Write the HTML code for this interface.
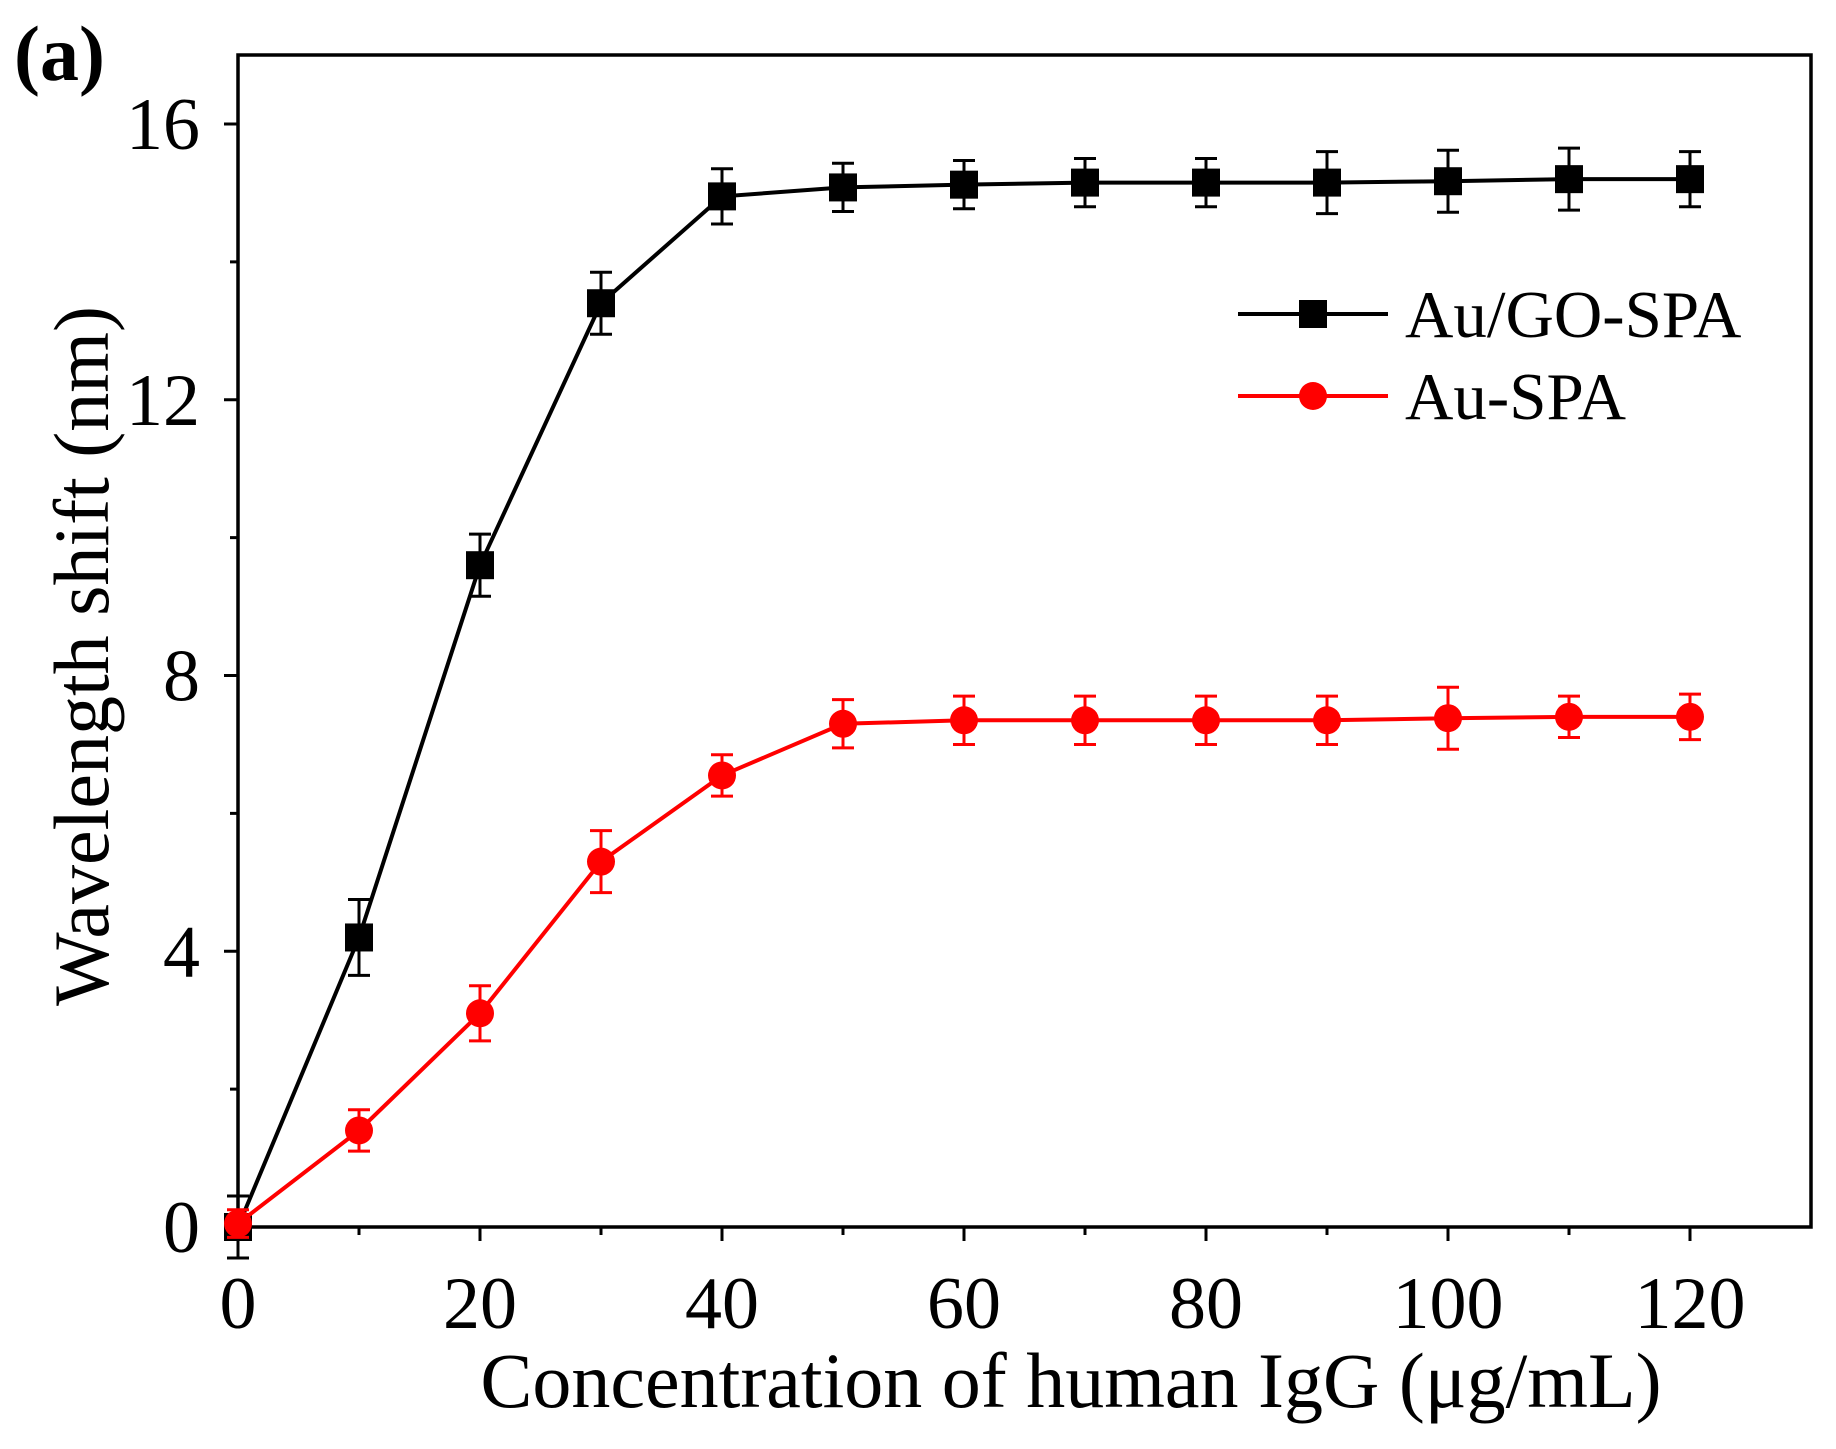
<!DOCTYPE html>
<html><head><meta charset="utf-8"><style>
html,body{margin:0;padding:0;background:#fff;}
svg{display:block;font-family:"Liberation Serif",serif;}
</style></head><body>
<svg id="chart" width="1836" height="1449" viewBox="0 0 1836 1449">
<text x="14" y="80" font-size="78" font-weight="bold">(a)</text>
<g id="plot"></g>
</svg>
<script>
const xValues=[0,10,20,30,40,50,60,70,80,90,100,110,120];
const goValues=[0,4.2,9.6,13.4,14.95,15.08,15.12,15.15,15.15,15.15,15.17,15.2,15.2];
const goErrors=[0.45,0.55,0.45,0.45,0.4,0.35,0.35,0.35,0.35,0.45,0.45,0.45,0.4];
const spaValues=[0.05,1.4,3.1,5.3,6.55,7.3,7.35,7.35,7.35,7.35,7.38,7.4,7.4];
const spaErrors=[0.2,0.3,0.4,0.45,0.3,0.35,0.35,0.35,0.35,0.35,0.45,0.3,0.33];
const xTicks=[0,20,40,60,80,100,120];
const xMinor=[10,30,50,70,90,110];
const yTicks=[0,4,8,12,16];
const yMinor=[2,6,10,14];
const L=238,R=1811,T=55,B=1227;
const xs=v=>L+v*(1690-238)/120;
const ys=v=>B-v*(1227-124)/16;
const NS="http://www.w3.org/2000/svg";
const g=document.getElementById('plot');
function mk(tag,attrs,parent){const e=document.createElementNS(NS,tag);for(const k in attrs)e.setAttribute(k,attrs[k]);(parent||g).appendChild(e);return e;}
const fr=mk('rect',{x:L,y:T,width:R-L,height:B-T,fill:'none',stroke:'#000','stroke-width':3.5});


xTicks.forEach(t=>{
 const l=mk('line',{x1:xs(t),x2:xs(t),y1:B,y2:B+14,stroke:'#000','stroke-width':3});
 
 
 const tx=mk('text',{x:xs(t),y:1328,'font-size':74,'text-anchor':'middle'});tx.textContent=t;
 
 
});
xMinor.forEach(t=>{
 const l=mk('line',{x1:xs(t),x2:xs(t),y1:B,y2:B+8,stroke:'#000','stroke-width':3});
 
 
});
yTicks.forEach(t=>{
 const l=mk('line',{x1:L-14,x2:L,y1:ys(t),y2:ys(t),stroke:'#000','stroke-width':3});
 
 
 const tx=mk('text',{x:200,y:ys(t)+25,'font-size':74,'text-anchor':'end'});tx.textContent=t;
 
 
});
yMinor.forEach(t=>{
 const l=mk('line',{x1:L-8,x2:L,y1:ys(t),y2:ys(t),stroke:'#000','stroke-width':3});
 
 
});
const xt=mk('text',{x:1071,y:1407,'font-size':78,'text-anchor':'middle'});xt.textContent='Concentration of human IgG (\u03bcg/mL)';


const yt=mk('text',{x:0,y:0,'font-size':78,'text-anchor':'middle',transform:'translate(108,656) rotate(-90)'});yt.textContent='Wavelength shift (nm)';


function series(vals,errs,color,shape,name){
 const sg=mk('g',{});
 
 
 vals.forEach((v,i)=>{
  const x=xs(xValues[i]),y1=ys(v+errs[i]),y2=ys(v-errs[i]);
  const e=mk('path',{d:`M${x},${y1}V${y2}M${x-11},${y1}H${x+11}M${x-11},${y2}H${x+11}`,stroke:color,'stroke-width':3,fill:'none'},sg);
  
  
 });
 const p=mk('polyline',{points:vals.map((v,i)=>xs(xValues[i])+','+ys(v)).join(' '),fill:'none',stroke:color,'stroke-width':4},sg);
 
 
 vals.forEach((v,i)=>{
  const x=xs(xValues[i]),y=ys(v);
  const m=shape==='sq'?mk('rect',{x:x-14,y:y-14,width:28,height:28,fill:color},sg):mk('circle',{cx:x,cy:y,r:14,fill:color},sg);
  
  
 });
}
series(goValues,goErrors,'#000','sq','au-go-spa');
series(spaValues,spaErrors,'#ff0000','ci','au-spa');
const lg=mk('g',{});


[['Au/GO-SPA','#000','sq',314],['Au-SPA','#ff0000','ci',396]].forEach(([lab,c,s,y])=>{
 const en=mk('g',{},lg);
 
 
 mk('line',{x1:1238,x2:1388,y1:y,y2:y,stroke:c,'stroke-width':4},en);
 if(s==='sq')mk('rect',{x:1299,y:y-14,width:28,height:28,fill:c},en);else mk('circle',{cx:1313,cy:y,r:14,fill:c},en);
 const t=mk('text',{x:1405,y:y+23,'font-size':67},en);t.textContent=lab;
});
</script>
</body></html>
